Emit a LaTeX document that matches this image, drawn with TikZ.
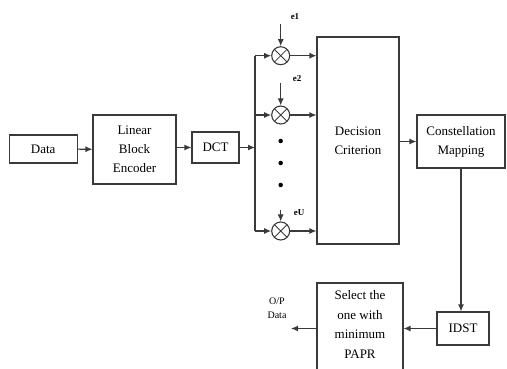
\documentclass[tikz,border=0pt]{standalone}
\usepackage{fontspec}
\setmainfont{Liberation Serif}
\usetikzlibrary{arrows.meta,calc}
\definecolor{ln}{HTML}{3A3A3A}
\tikzset{
  blk/.style={draw=ln, line width=1.1pt, rectangle, inner sep=0pt, align=center, font=\fontsize{13}{19}\selectfont},
  arr/.style={draw=ln, line width=1.1pt, -{Latex[length=7pt,width=6pt]}},
  ln/.style={draw=ln, line width=1.1pt},
  mult/.style={draw=ln, line width=1.1pt, circle, minimum size=18pt, inner sep=0pt,
    path picture={\draw[ln, line width=0.8pt] (path picture bounding box.north west) -- (path picture bounding box.south east)
      (path picture bounding box.north east) -- (path picture bounding box.south west);}},
  elab/.style={font=\bfseries\fontsize{9}{10}\selectfont, inner sep=0pt},
  dotc/.style={circle, fill=black, minimum size=4.5pt, inner sep=0pt}
}
\begin{document}
\begin{tikzpicture}[x=1pt,y=-1pt]
\useasboundingbox (0,0) rectangle (507,369);
\clip (0,0) rectangle (507,369);
\node[blk, minimum width=67.7pt, minimum height=28pt] (data) at (43.2,149) {Data};
\node[blk, minimum width=83pt, minimum height=69pt] (lbe) at (134.5,149.5) {Linear\\Block\\Encoder};
\node[blk, minimum width=47pt, minimum height=31pt] (dct) at (215.5,147.5) {DCT};
\node[blk, minimum width=82pt, minimum height=207pt] (dc) at (358,140.5) {Decision\\Criterion};
\node[blk, minimum width=88pt, minimum height=53pt] (cm) at (461,141.5) {Constellation\\Mapping};
\node[blk, minimum width=52pt, minimum height=33pt] (idst) at (463,328.5) {IDST};
\node[blk, minimum width=86pt, minimum height=97pt] (sel) at (360,331.5) {};
\node[align=center, font=\fontsize{13}{19.5}\selectfont, inner sep=0pt] (selt) at (360,324.5) {Select the\\one with\\minimum\\PAPR};

\node[mult] (m1) at (280.7,55.7) {};
\node[mult] (m2) at (280.7,115) {};
\node[mult] (mU) at (280.7,231) {};
\coordinate (bt) at (255,55.7);
\coordinate (bb) at (255,231);
\coordinate (bm) at (255,147.5);
\coordinate (e1s) at (280.7,24);
\coordinate (e2s) at (280.7,83);
\coordinate (eUs) at (280.7,210);
\node[elab] (e1) at (295,17) {e1};
\node[elab] (e2) at (297,79) {e2};
\node[elab] (eU) at (299,213) {eU};
\node[dotc] (d1) at (280.7,141) {};
\node[dotc] (d2) at (280.7,163) {};
\node[dotc] (d3) at (280.7,185) {};
\coordinate (out) at (291,328.5);
\node[align=center, font=\fontsize{10}{14}\selectfont, inner sep=0pt] (op) at (277,308) {O/P\\Data};

\draw[arr] (data) -- (lbe);
\draw[arr] (lbe.east |- dct.west) -- (dct.west);
\draw[arr] (dct.east) -- (bm);
\draw[ln] (bt) -- (bb);
\draw[arr] (bt) -- (m1.west);
\draw[arr] (m2.west -| bt) -- (m2.west);
\draw[arr] (bb) -- (mU.west);
\draw[arr] (e1s) -- (m1.north);
\draw[arr] (e2s) -- (m2.north);
\draw[arr] (eUs) -- (mU.north);
\draw[arr] (m1.east) -- (m1.east -| dc.west);
\draw[arr] (m2.east) -- (m2.east -| dc.west);
\draw[arr] (mU.east) -- (mU.east -| dc.west);
\draw[arr] (dc.east |- cm.west) -- (cm.west);
\draw[arr] (cm.south) -- (cm.south |- idst.north);
\draw[arr] (idst.west) -- (idst.west -| sel.east);
\draw[arr] (sel.west |- idst.west) -- (out);
\end{tikzpicture}
\end{document}
